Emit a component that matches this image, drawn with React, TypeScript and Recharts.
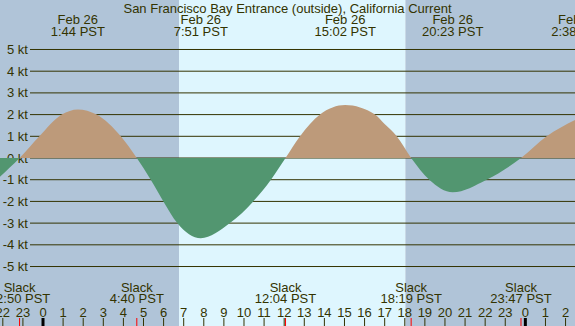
import React from "react";
import {
  AreaChart,
  Area,
  XAxis,
  YAxis,
  ReferenceArea,
  ReferenceLine,
} from "recharts";

// hours since midnight Feb 26 (PST) and current speed in knots (+ flood, - ebb)
const hours = [
  -2.14, -1.167, -0.18, 0.93, 1.733, 2.67, 3.87, 4.667, 5.36, 5.99, 6.68, 7.85,
  9.3, 10.46, 11.34, 12.067, 12.79, 13.78, 15.033, 16.52, 17.01, 17.6, 18.317,
  19.22, 20.383, 22.07, 23.783, 25.06, 26.47,
];
const knots = [
  -0.86, 0, 1, 2, 2.24, 2, 1, 0, -1, -2, -3, -3.7, -3, -2, -1, 0, 1, 2, 2.44,
  2.0, 1.55, 1, 0, -1, -1.58, -1, 0, 1, 1.75,
];

const peakHours = [1.733, 7.85, 15.033, 20.383, 26.633];
const peakDates = ["Feb 26", "Feb 26", "Feb 26", "Feb 26", "Feb 27"];
const peakTimes = ["1:44 PST", "7:51 PST", "15:02 PST", "20:23 PST", "2:38 PST"];

const slackHours = [-1.167, 4.667, 12.067, 18.317, 23.783];
const slackTimes = ["22:50 PST", "4:40 PST", "12:04 PST", "18:19 PST", "23:47 PST"];

const hourTicks = [
  -2, -1, 0, 1, 2, 3, 4, 5, 6, 7, 8, 9, 10, 11, 12, 13, 14, 15, 16, 17, 18, 19,
  20, 21, 22, 23, 24, 25, 26,
];
const ktTicks = [5, 4, 3, 2, 1, 0, -1, -2, -3, -4, -5];

const sunrise = 6.77;
const sunset = 18.03;
const viewStart = -2.14;
const viewEnd = 26.47;

const data = hours.map((t, i) => ({ t, v: knots[i] }));

const NIGHT = "#b0c4d8";
const DAY = "#def6fe";
const FLOOD = "#bd9a7a";
const EBB = "#529670";
const INK = "#333300";
const FONT = "'Liberation Sans', Arial, sans-serif";

const maxV = Math.max(...knots);
const minV = Math.min(...knots);
const zeroOffset = maxV / (maxV - minV);

export default function App() {
  return (
    <div
      style={{
        position: "absolute",
        left: 0,
        top: 0,
        width: 575,
        height: 326,
        overflow: "hidden",
        fontFamily: FONT,
      }}
    >
      <AreaChart
        width={575}
        height={326}
        data={data}
        margin={{ top: 0, right: 0, bottom: 0, left: 0 }}
        style={{ overflow: "hidden" }}
      >
        <defs>
          <linearGradient id="tideFill" x1="0" y1="0" x2="0" y2="1">
            <stop offset={zeroOffset} stopColor={FLOOD} />
            <stop offset={zeroOffset} stopColor={EBB} />
          </linearGradient>
        </defs>
        <XAxis
          type="number"
          dataKey="t"
          domain={[viewStart, viewEnd]}
          allowDataOverflow
          hide
        />
        <YAxis type="number" domain={[-7.74, 7.28]} allowDataOverflow hide />

        <ReferenceArea x1={viewStart} x2={sunrise} fill={NIGHT} fillOpacity={1} stroke="none" zIndex={-300} />
        <ReferenceArea x1={sunrise} x2={sunset} fill={DAY} fillOpacity={1} stroke="none" zIndex={-300} />
        <ReferenceArea x1={sunset} x2={viewEnd} fill={NIGHT} fillOpacity={1} stroke="none" zIndex={-300} />

        {ktTicks.map((k) => (
          <ReferenceLine
            key={"kt" + k}
            y={k}
            zIndex={-200}
            shape={(p: any) => (
              <g>
                <line x1={30} x2={p.x2} y1={p.y1} y2={p.y1} stroke={INK} strokeWidth={1} />
                <text x={28} y={p.y1 + 4.5} textAnchor="end" fontSize={13} fill={INK} fontFamily={FONT}>
                  {`${k} kt`}
                </text>
              </g>
            )}
          />
        ))}

        <Area
          type="monotone"
          dataKey="v"
          baseValue={0}
          stroke="none"
          fill="url(#tideFill)"
          fillOpacity={1}
          isAnimationActive={false}
          dot={false}
          activeDot={false}
        />

        {hourTicks.map((h) => (
          <ReferenceLine
            key={"h" + h}
            x={h}
            zIndex={600}
            shape={(p: any) => (
              <g>
                <text x={p.x1} y={316.7} textAnchor="middle" fontSize={13} fill={INK} fontFamily={FONT}>
                  {String(((h % 24) + 24) % 24)}
                </text>
                <line
                  x1={p.x1}
                  x2={p.x1}
                  y1={318}
                  y2={326}
                  stroke={h % 24 === 0 ? "#000" : INK}
                  strokeWidth={h % 24 === 0 ? 3 : 1}
                />
              </g>
            )}
          />
        ))}

        {slackHours.map((h, i) => (
          <ReferenceLine
            key={"s" + i}
            x={h}
            zIndex={600}
            shape={(p: any) => (
              <g>
                <line x1={p.x1} x2={p.x1} y1={318} y2={326} stroke="#ff0000" strokeWidth={1} />
                <text x={p.x1} y={291.7} textAnchor="middle" fontSize={13} fill={INK} fontFamily={FONT}>
                  Slack
                </text>
                <text x={p.x1} y={303.3} textAnchor="middle" fontSize={13} fill={INK} fontFamily={FONT}>
                  {slackTimes[i]}
                </text>
              </g>
            )}
          />
        ))}

        {peakHours.map((h, i) => (
          <ReferenceLine
            key={"p" + i}
            x={h}
            ifOverflow="visible"
            zIndex={600}
            shape={(p: any) => (
              <g>
                <text x={p.x1} y={24} textAnchor="middle" fontSize={13} fill={INK} fontFamily={FONT}>
                  {peakDates[i]}
                </text>
                <text x={p.x1} y={35.7} textAnchor="middle" fontSize={13} fill={INK} fontFamily={FONT}>
                  {peakTimes[i]}
                </text>
              </g>
            )}
          />
        ))}
      </AreaChart>
      <div
        style={{
          position: "absolute",
          left: 0,
          top: 0.5,
          width: 575,
          textAlign: "center",
          fontSize: 13,
          lineHeight: "15px",
          color: INK,
          pointerEvents: "none",
        }}
      >
        San Francisco Bay Entrance (outside), California Current
      </div>
    </div>
  );
}
